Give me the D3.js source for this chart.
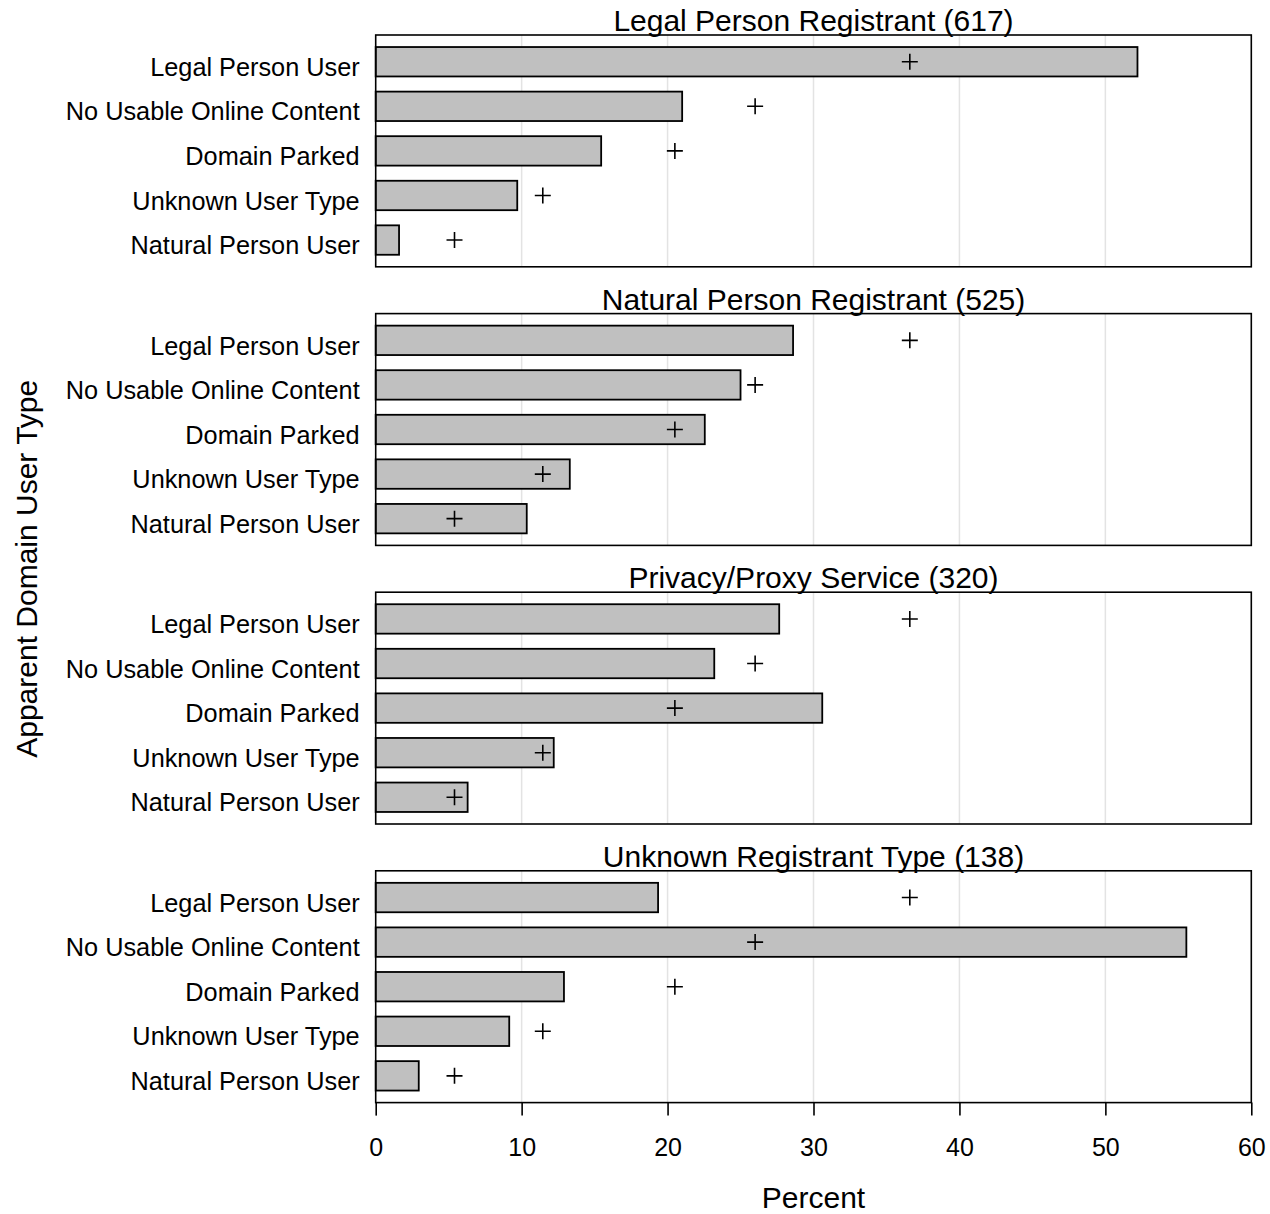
<!DOCTYPE html>
<html>
<head>
<meta charset="utf-8">
<script src="https://cdn.jsdelivr.net/npm/d3@7"></script>
<style>
  html, body { margin: 0; padding: 0; background: #fff; }
  svg { display: block; font-family: "Liberation Sans", Arial, Helvetica, sans-serif; }
</style>
</head>
<body>
<svg id="chart" width="1270" height="1214"></svg>
<script>
// ---- Data ----
const categories = ["Legal Person User", "No Usable Online Content", "Domain Parked", "Unknown User Type", "Natural Person User"];
const panels = ["Legal Person Registrant (617)", "Natural Person Registrant (525)", "Privacy/Proxy Service (320)", "Unknown Registrant Type (138)"];
const legalPersonRegistrant   = [52.2, 21.0, 15.45, 9.7, 1.6];
const naturalPersonRegistrant = [28.6, 25.0, 22.55, 13.3, 10.35];
const privacyProxyService     = [27.65, 23.2, 30.6, 12.2, 6.3];
const unknownRegistrantType   = [19.35, 55.55, 12.9, 9.15, 2.95];
const overallPercent          = [36.6, 26.0, 20.5, 11.45, 5.4];
const xTicks = [0, 10, 20, 30, 40, 50, 60];
const seriesValues = [legalPersonRegistrant, naturalPersonRegistrant, privacyProxyService, unknownRegistrantType];

// ---- Layout ----
const svg = d3.select("#chart");
const left = 375.7, right = 1251.3;
const panelTop0 = 35, panelH = 231.8, panelStep = 278.6;

const x = d3.scaleLinear().domain([0, 60]).range([left, right]);
const y = d3.scaleBand().domain(categories).range([0, panelH]).paddingInner(0.34).paddingOuter(0.27);

panels.forEach((title, pi) => {
  const top = panelTop0 + pi * panelStep;
  const g = svg.append("g").attr("transform", `translate(0,${top})`);

  // gridlines
  g.selectAll("line.grid").data(xTicks.slice(1, -1)).enter().append("line")
    .attr("x1", d => x(d)).attr("x2", d => x(d))
    .attr("y1", 0).attr("y2", panelH)
    .attr("stroke", "#e3e3e3").attr("stroke-width", 1.5);

  // bars
  g.selectAll("rect.bar").data(seriesValues[pi]).enter().append("rect")
    .attr("x", x(0))
    .attr("y", (d, i) => y(categories[i]))
    .attr("width", d => x(d) - x(0))
    .attr("height", y.bandwidth())
    .attr("fill", "#c0c0c0").attr("stroke", "#000").attr("stroke-width", 1.8);

  // plus markers (overall)
  overallPercent.forEach((v, i) => {
    const cx = x(v), cy = y(categories[i]) + y.bandwidth() / 2;
    g.append("path")
      .attr("d", `M${cx - 8},${cy}H${cx + 8}M${cx},${cy - 8}V${cy + 8}`)
      .attr("stroke", "#000").attr("stroke-width", 1.6).attr("fill", "none");
  });

  // frame
  g.append("rect").attr("x", left).attr("y", 0).attr("width", right - left).attr("height", panelH)
    .attr("fill", "none").attr("stroke", "#000").attr("stroke-width", 1.6);

  // category labels
  g.selectAll("text.cat").data(categories).enter().append("text")
    .attr("x", left - 16)
    .attr("y", d => y(d) + y.bandwidth() / 2)
    .attr("dy", "0.56em")
    .attr("text-anchor", "end")
    .attr("font-size", 25.3)
    .attr("fill", "#000")
    .text(d => d);

  // panel title
  g.append("text")
    .attr("x", (left + right) / 2).attr("y", -4)
    .attr("text-anchor", "middle").attr("font-size", 30).attr("fill", "#000")
    .text(title);
});

// x axis
const axisY = panelTop0 + 3 * panelStep + panelH;
const axis = d3.axisBottom(x).tickValues(xTicks).tickSize(13).tickPadding(23).tickFormat(d3.format("d"));
const ag = svg.append("g").attr("transform", `translate(0,${axisY})`).call(axis);
ag.select(".domain").remove();
ag.selectAll(".tick line").attr("stroke", "#000").attr("stroke-width", 1.6);
ag.selectAll(".tick text").attr("font-size", 25).attr("fill", "#000").attr("font-family", "Liberation Sans, Arial, sans-serif");

// axis titles
svg.append("text").attr("x", (left + right) / 2).attr("y", 1208)
  .attr("text-anchor", "middle").attr("font-size", 30).attr("fill", "#000").text("Percent");

svg.append("text")
  .attr("transform", `translate(37,${(panelTop0 + axisY) / 2}) rotate(-90)`)
  .attr("text-anchor", "middle").attr("font-size", 30).attr("fill", "#000")
  .text("Apparent Domain User Type");
</script>
</body>
</html>
